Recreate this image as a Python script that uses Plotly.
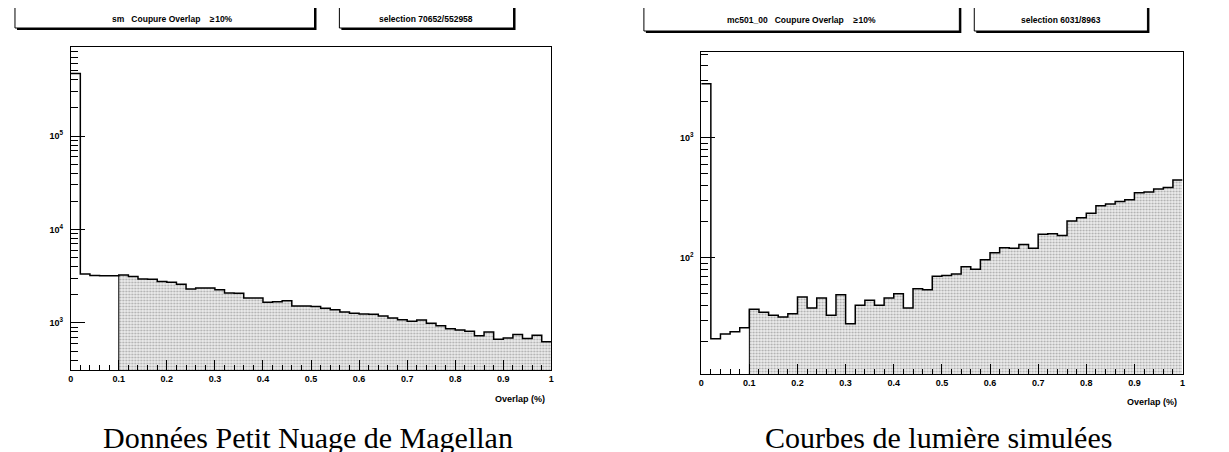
import numpy as np
import plotly.graph_objects as go

W, H = 1229, 452

# Overlap histogram, 50 bins of 0.02
bin_edges = [round(i * 0.02, 2) for i in range(51)]
cut = 0.1  # selection: overlap >= 10%

# left: SMC data
counts_sm = [469346, 3350, 3210, 3200, 3200,
             3258, 3133, 2954, 2930, 2768, 2723, 2591, 2307, 2366, 2366,
             2271, 2089, 2075, 1848, 1848, 1660, 1690, 1732, 1518, 1518,
             1495, 1433, 1387, 1308, 1266, 1244, 1235, 1184, 1128, 1084,
             1039, 1074, 990, 935, 868, 839, 812, 730, 798, 667,
             689, 753, 683, 736, 630]
# right: simulated light curves
counts_mc = [2838, 21, 23, 24, 26,
             37, 35, 33, 32, 34, 47, 38, 46, 33, 49,
             28, 40, 44, 40, 46, 50, 38, 55, 54, 70,
             71, 73, 84, 80, 96, 110, 121, 120, 129, 120,
             157, 158, 153, 202, 215, 235, 271, 281, 295, 304,
             348, 353, 374, 386, 446]

header_sm = ["sm\u00a0\u00a0\u00a0Coupure Overlap\u00a0\u00a0\u00a0\u00a0\u2265\u200a10%", "selection 70652/552958"]
header_mc = ["mc501_00\u00a0\u00a0\u00a0Coupure Overlap\u00a0\u00a0\u00a0\u00a0\u2265\u200a10%", "selection 6031/8963"]
captions = ["Données Petit Nuage de Magellan", "Courbes de lumière simulées"]
xtick_vals = [round(i * 0.1, 1) for i in range(11)]
xtick_text = ["0", "0.1", "0.2", "0.3", "0.4", "0.5", "0.6", "0.7", "0.8", "0.9", "1"]

SANS = "Liberation Sans"


def px(x):
    return x / W


def py(y):
    return 1 - y / H


panels = [
    dict(counts=counts_sm, xd=[60, 543], yd=[39, 362], yr=[2.496, 5.954],
         decades=[3, 4, 5], header=header_sm,
         boxes=[(4, 305, 20, 8), (330, 505, 20, 0)], title_y=391),
    dict(counts=counts_mc, xd=[693.6, 1177.3], yd=[44, 366], yr=[1.028, 3.718],
         decades=[2, 3], header=header_mc,
         boxes=[(636, 953, 23, 0), (968, 1142, 23, 0)], title_y=394),
]

fig = go.Figure()
shapes, annotations = [], []
lo_edges = bin_edges[:-1]

for i, p in enumerate(panels):
    n = "" if i == 0 else str(i + 1)
    xa, ya = "x" + n, "y" + n
    c = p["counts"]
    sel = [k for k, e in enumerate(lo_edges) if e >= cut - 1e-9]

    # shaded selected bins
    fig.add_trace(go.Bar(
        x=[lo_edges[k] + 0.01 for k in sel], y=[c[k] for k in sel], width=0.02,
        marker=dict(color="#e4e4e4", line=dict(width=0),
                    pattern=dict(shape=".", fgcolor="#6a6a6a", bgcolor="#ececec",
                                 size=3, solidity=0.35)),
        xaxis=xa, yaxis=ya, showlegend=False, hoverinfo="skip"))
    # left edge of the shaded part
    fig.add_trace(go.Scatter(
        x=[cut, cut], y=[10 ** p["yr"][0], c[sel[0]]], mode="lines",
        line=dict(color="black", width=1), xaxis=xa, yaxis=ya,
        showlegend=False, hoverinfo="skip"))
    # full histogram outline
    fig.add_trace(go.Scatter(
        x=bin_edges, y=c + [c[-1]], mode="lines", line_shape="hv",
        line=dict(color="black", width=1.5), xaxis=xa, yaxis=ya,
        showlegend=False, hoverinfo="skip"))

    lo, hi = p["yr"]
    minor = [m * 10 ** d for d in range(int(np.floor(lo)), int(np.ceil(hi)) + 1)
             for m in range(2, 10) if lo <= np.log10(m * 10 ** d) <= hi]
    axis_common = dict(showgrid=False, zeroline=False, showline=True,
                       linecolor="black", linewidth=1, mirror=True,
                       ticks="inside", tickcolor="black", tickwidth=1)
    fig.update_layout(**{
        ("xaxis" + n): dict(
            domain=[px(p["xd"][0]), px(p["xd"][1])], range=[0, 1],
            anchor=ya, tickvals=xtick_vals, ticktext=xtick_text, ticklen=10,
            tickfont=dict(family=SANS, size=9, color="black", weight="bold"),
            minor=dict(tickvals=[e for e in bin_edges if round(e * 10, 6) % 1],
                       ticklen=5, ticks="inside", tickcolor="black"),
            **axis_common),
        ("yaxis" + n): dict(
            domain=[py(p["yd"][1]), py(p["yd"][0])], type="log", range=[lo, hi],
            anchor=xa, tickvals=[10 ** d for d in p["decades"]],
            ticktext=["10<sup>%d</sup>" % d for d in p["decades"]], ticklen=14,
            ticklabelstandoff=5,
            tickfont=dict(family=SANS, size=9, color="black", weight="bold"),
            minor=dict(tickvals=minor, ticklen=7, ticks="inside", tickcolor="black"),
            **axis_common),
    })

    # ROOT-style header boxes with shadow
    for (x0, x1, yb, dx), txt in zip(p["boxes"], p["header"]):
        shapes.append(dict(type="rect", xref="paper", yref="paper",
                           x0=px(x0 + 2), x1=px(x1 + 2), y0=py(yb + 2), y1=py(-2),
                           fillcolor="black", line=dict(width=0), layer="below"))
        shapes.append(dict(type="rect", xref="paper", yref="paper",
                           x0=px(x0), x1=px(x1), y0=py(yb), y1=py(-3),
                           fillcolor="white", line=dict(color="black", width=1),
                           layer="below"))
        annotations.append(dict(text=txt, xref="paper", yref="paper",
                                x=px((x0 + x1) / 2 + dx), y=py(yb / 2 + 1),
                                showarrow=False, xanchor="center", yanchor="middle",
                                font=dict(family=SANS, size=8.5, color="black",
                                          weight="bold")))
    annotations.append(dict(text="Overlap (%)", xref="paper", yref="paper",
                            x=px(p["xd"][1] - 4), y=py(p["title_y"]),
                            showarrow=False, xanchor="right", yanchor="middle",
                            font=dict(family=SANS, size=9, color="black",
                                      weight="bold")))
    annotations.append(dict(text=captions[i], xref="paper", yref="paper",
                            x=px(sum(p["xd"]) / 2 - 3), y=py(429),
                            showarrow=False, xanchor="center", yanchor="middle",
                            font=dict(family="Liberation Serif", size=30,
                                      color="black")))

fig.update_layout(
    width=W, height=H, margin=dict(l=0, r=0, t=0, b=0),
    paper_bgcolor="white", plot_bgcolor="white",
    bargap=0, showlegend=False,
    shapes=shapes, annotations=annotations,
)

fig.write_html("out.html")
